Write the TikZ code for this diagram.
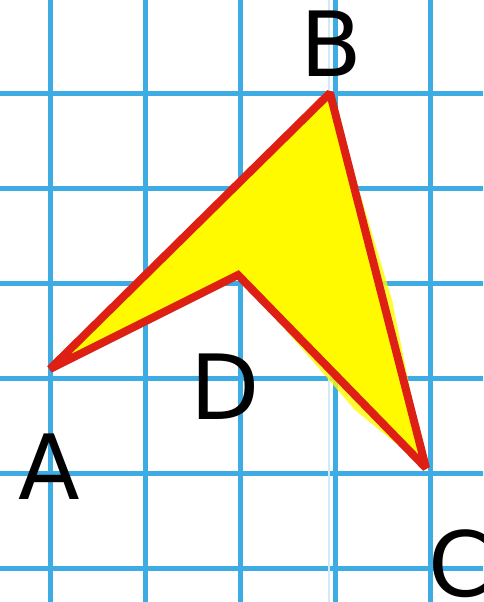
\documentclass[tikz,border=0pt]{standalone}
\usepackage{fontspec}
\setmainfont{DejaVu Sans}
\definecolor{gridblue}{RGB}{62,172,228}
\definecolor{edgered}{RGB}{222,32,20}
\definecolor{fillyellow}{RGB}{255,250,0}
\tikzset{
  gridline/.style={draw=gridblue, line width=5pt},
  outline/.style={draw=edgered, line width=8pt, line join=miter, miter limit=2},
  lbl/.style={font=\fontsize{90}{90}\selectfont, text=black, inner sep=0pt}
}
\begin{document}
\begin{tikzpicture}[x=1pt,y=-1pt]
\useasboundingbox[fill=white] (0,0) rectangle (483,602);
\begin{scope}
\clip (0,0) rectangle (483,602);
\foreach \gx in {50,145,240,335,430} \draw[gridline] (\gx,-5) -- (\gx,607);
\foreach \gy in {-2,93,188,283,378,473,568} \draw[gridline] (-5,\gy) -- (488,\gy);
\draw[gridblue!25, line width=1.2pt] (329,0) -- (329,602);
\end{scope}
\coordinate (A) at (50,369);
\coordinate (B) at (330,93);
\coordinate (C) at (426,468);
\coordinate (D) at (238,275);
\fill[fillyellow, opacity=0.8] (70,345) -- (B) -- (392,300) -- (C) -- (355,410) -- (D) -- (120,330) -- cycle;
\fill[fillyellow] (A) -- (B) -- (C) -- (D) -- cycle;
\draw[outline] (A) -- (B) -- (C) -- (D) -- cycle;
\node[lbl] (lB) at (331,44) {B};
\node[lbl] (lA) at (49,467) {A};
\node[lbl] (lD) at (225,387) {D};
\node[lbl] (lC) at (460,564) {C};
\end{tikzpicture}
\end{document}
